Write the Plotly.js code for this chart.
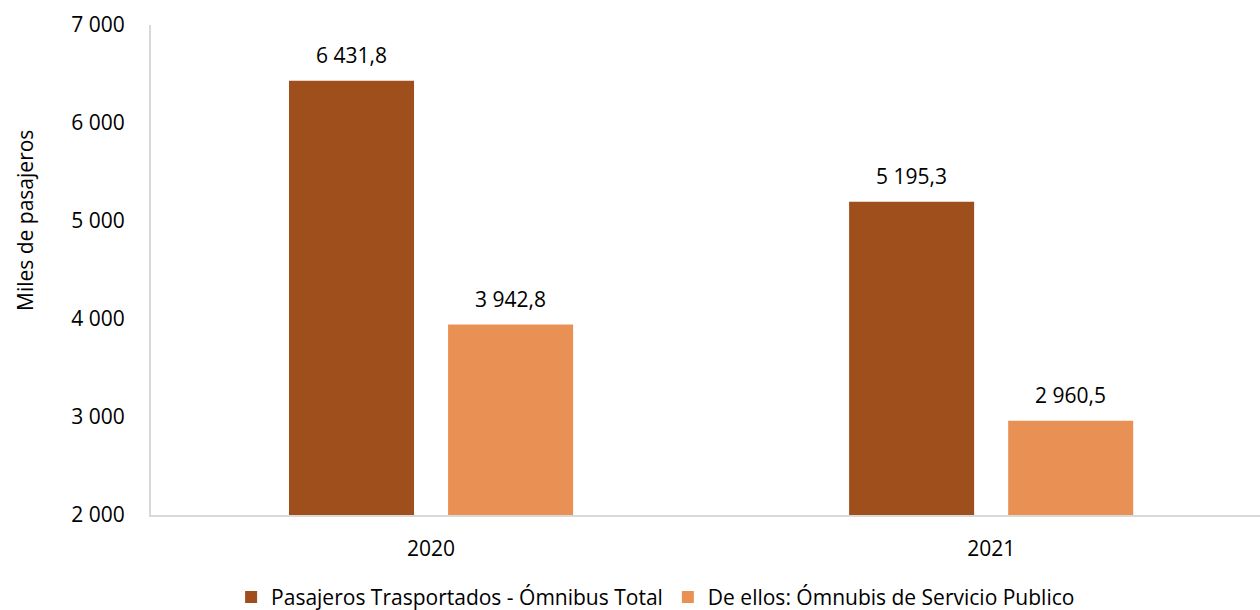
<!DOCTYPE html>
<html>
<head>
<meta charset="utf-8">
<script src="https://cdn.plot.ly/plotly-3.0.1.min.js"></script>
<style>html,body{margin:0;padding:0;background:#fff;}#chart{width:1260px;height:610px;}</style>
</head>
<body>
<div id="chart"></div>
<script>
const categories = ["2020", "2021"];
const seriesNames = ["Pasajeros Trasportados - Ómnibus Total", "De ellos: Ómnubis de Servicio Publico"];
const totalValues = [6431.8, 5195.3];
const publicValues = [3942.8, 2960.5];
const yTickValues = [2000, 3000, 4000, 5000, 6000, 7000];
const yTickLabels = ["2 000", "3 000", "4 000", "5 000", "6 000", "7 000"];

const FONT = "Open Sans, sans-serif";
const FS = 21;
const colors = ["#9E4F1B", "#E99155"];

function fmt(v) {
  const parts = v.toFixed(1).split(".");
  const intPart = parts[0].replace(/\B(?=(\d{3})+(?!\d))/g, " ");
  return intPart + "," + parts[1];
}

const traces = [
  {type: "bar", name: seriesNames[0], x: categories, y: totalValues, marker: {color: colors[0]}, hoverinfo: "none"},
  {type: "bar", name: seriesNames[1], x: categories, y: publicValues, marker: {color: colors[1]}, hoverinfo: "none"}
];

const bargap = 0.432;
const slotFrac = (1 - bargap) / 2;
const annotations = [];
[totalValues, publicValues].forEach((vals, si) => {
  vals.forEach((v, ci) => {
    annotations.push({
      x: ci + (si === 0 ? -slotFrac / 2 : slotFrac / 2),
      y: v, xref: "x", yref: "y",
      text: fmt(v), showarrow: false,
      yanchor: "middle", yshift: 26,
      font: {family: FONT, size: FS, color: "#000"}
    });
  });
});
annotations.push({
  x: (25 - 151) / 1109, xref: "paper", xanchor: "center",
  y: (515 - 221) / 490, yref: "paper", yanchor: "middle",
  text: "Miles de pasajeros", showarrow: false, textangle: -90,
  font: {family: FONT, size: FS, color: "#000"}
});

const layout = {
  width: 1260, height: 610,
  margin: {l: 151, r: 0, t: 25, b: 95, autoexpand: false},
  paper_bgcolor: "#fff", plot_bgcolor: "#fff",
  font: {family: FONT, size: FS, color: "#000"},
  barmode: "group", bargap: bargap, bargroupgap: 0.214,
  showlegend: true,
  legend: {orientation: "h", x: 0.455, xanchor: "center", y: -0.168, yanchor: "middle",
           font: {family: FONT, size: FS, color: "#000"}, itemwidth: 30, traceorder: "normal"},
  xaxis: {type: "category", range: [-0.5, 1.48], showline: true, linecolor: "#d9d9d9", linewidth: 2,
          ticks: "", showgrid: false, zeroline: false, ticklabelstandoff: 14,
          tickfont: {family: FONT, size: FS, color: "#000"}},
  yaxis: {range: [2000, 7000], tickvals: yTickValues, ticktext: yTickLabels, showline: true,
          linecolor: "#d9d9d9", linewidth: 2, ticks: "", showgrid: false, zeroline: false,
          ticklabelstandoff: 20, tickfont: {family: FONT, size: FS, color: "#000"}},
  annotations: annotations
};

Plotly.newPlot("chart", traces, layout, {staticPlot: true, displayModeBar: false});
</script>
</body>
</html>
